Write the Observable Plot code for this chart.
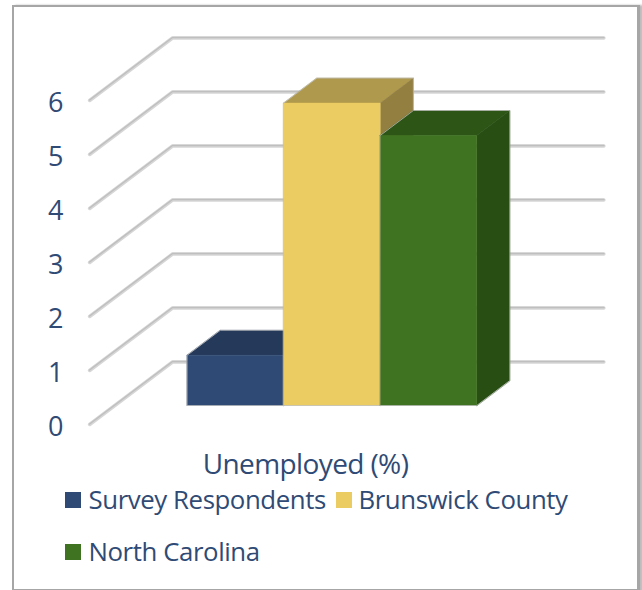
<!DOCTYPE html>
<html>
<head>
<meta charset="utf-8">
<script src="https://cdn.jsdelivr.net/npm/d3@7"></script>
<script src="https://cdn.jsdelivr.net/npm/@observablehq/plot@0.6"></script>
<style>
  html, body { margin: 0; padding: 0; background: #fff; }
  #frame { position: relative; width: 642px; height: 590px; overflow: hidden; font-family: "Open Sans", sans-serif; color: #2F4B75; }
  #border { position: absolute; left: 12px; top: 5px; width: 623px; height: 582px; border: 2px solid #A6A6A6; border-bottom-width: 3px; border-right-width: 3px; box-shadow: 3px 0 2px #BDBDBD; box-sizing: content-box; }
  #chart { position: absolute; left: 0; top: 0; }
  #title { position: absolute; left: 0; width: 611px; top: 444px; text-align: center; font-size: 28px; letter-spacing: -0.6px; line-height: 38px; }
  .entry { position: absolute; font-size: 25.8px; letter-spacing: -0.42px; line-height: 34px; white-space: nowrap; }
  .swatch { position: absolute; width: 16px; height: 16px; }
</style>
</head>
<body>
<div id="frame">
  <div id="border"></div>
  <div id="chart"></div>
  <div id="title"></div>
  <div id="legend"></div>
</div>
<script>
// Unemployment rate by area
const metric = "Unemployed (%)";
const areas = ["Survey Respondents", "Brunswick County", "North Carolina"];
const rates = [0.93, 5.6, 5.0];
const frontColors = ["#2F4B75", "#EBCC62", "#3F7321"];
const topColors = ["#253A5B", "#AF994C", "#2D5616"];
const sideColors = ["#20334F", "#937F40", "#284E14"];
const yTicks = [0, 1, 2, 3, 4, 5, 6];

// Oblique projection: depth z (0 = front of the floor, 1 = back wall) shifts
// a point right along x and up along the value axis.
const depthX = 0.859, depthY = 1.157;
const barFront = 0.304, barBack = 0.704;
const wallLeft = -0.75, wallRight = 3.72;
const project = (u, v, z) => ({x: u + z * depthX, y: v + z * depthY});

// Wall and floor guide lines for every tick value
const guides = yTicks.map((v) => [project(wallLeft, v, 0), project(wallLeft, v, 1), project(wallRight, v, 1)]);
const guidePoints = guides.flatMap((pts, i) => pts.map((p) => ({...p, id: i})));

// Visible faces of a bar, as closed polygons, plus its outer silhouette
const face = (corners) => corners.map(([u, v, z]) => project(u, v, z));
const faces = (i) => {
  const a = i, b = i + 1, h = rates[i];
  return {
    top: face([[a, h, barFront], [b, h, barFront], [b, h, barBack], [a, h, barBack]]),
    side: face([[b, 0, barFront], [b, h, barFront], [b, h, barBack], [b, 0, barBack]]),
    front: face([[a, 0, barFront], [b, 0, barFront], [b, h, barFront], [a, h, barFront]]),
    outline: face([[a, 0, barFront], [b, 0, barFront], [b, 0, barBack], [b, h, barBack], [a, h, barBack], [a, h, barFront]])
  };
};

const barMarks = areas.flatMap((_, i) => {
  const f = faces(i);
  const solid = (pts, color) => Plot.line(pts, {x: "x", y: "y", fill: color, stroke: color, strokeWidth: 0.5, curve: "linear-closed"});
  return [
    solid(f.top, topColors[i]),
    solid(f.side, sideColors[i]),
    solid(f.front, frontColors[i]),
    Plot.line(f.outline, {x: "x", y: "y", stroke: "#BDBDBD", strokeOpacity: 0.75, strokeWidth: 1, curve: "linear-closed"})
  ];
});

const chart = Plot.plot({
  width: 642,
  height: 445,
  margin: 0,
  x: {type: "linear", domain: [0, 3], range: [161.5, 451], axis: null},
  y: {type: "linear", domain: [0, 6], range: [424, 100], axis: null},
  style: {background: "transparent"},
  marks: [
    Plot.line(guidePoints, {x: "x", y: "y", z: "id", stroke: "#D6D6D6", strokeWidth: 3.5, strokeLinecap: "round", strokeLinejoin: "round", curve: "linear"}),
    Plot.line(guidePoints, {x: "x", y: "y", z: "id", stroke: "#BFBFBF", strokeWidth: 1.5, dy: -0.5, curve: "linear"}),
    ...barMarks,
    Plot.text(yTicks, {
      x: () => wallLeft,
      y: (d) => d,
      text: (d) => String(d),
      dx: -34,
      dy: 2.5,
      fontSize: 27,
      fill: "#2F4B75",
      fontFamily: "Open Sans, sans-serif",
      textAnchor: "middle"
    })
  ]
});
document.getElementById("chart").append(chart);
document.getElementById("title").textContent = metric;

// Legend wraps onto a second row below the axis title
const legend = document.getElementById("legend");
const slots = [{sx: 65, tx: 88.5, sy: 492}, {sx: 336, tx: 358.5, sy: 492}, {sx: 65, tx: 88.5, sy: 544}];
areas.forEach((name, i) => {
  const s = slots[i];
  const swatch = document.createElement("div");
  swatch.className = "swatch";
  swatch.style.cssText = `left:${s.sx}px;top:${s.sy}px;background:${frontColors[i]}`;
  const label = document.createElement("div");
  label.className = "entry";
  label.style.cssText = `left:${s.tx}px;top:${s.sy - 10}px`;
  label.textContent = name;
  legend.append(swatch, label);
});
</script>
</body>
</html>
